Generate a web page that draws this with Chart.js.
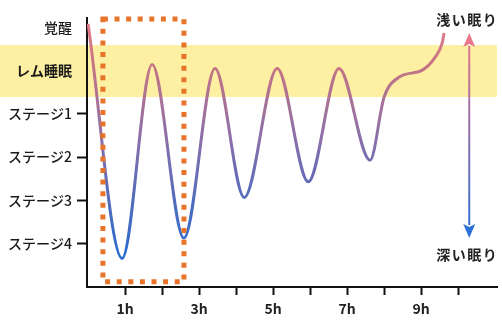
<!DOCTYPE html>
<html><head><meta charset="utf-8">
<script src="https://cdn.jsdelivr.net/npm/chart.js@4/dist/chart.umd.min.js"></script>
<style>html,body{margin:0;padding:0;background:#fff;}canvas{display:block;}</style>
</head><body>
<canvas id="c" width="502" height="322"></canvas>
<script>
// ---- data ----
const stageLabels = ['覚醒', 'レム睡眠', 'ステージ1', 'ステージ2', 'ステージ3', 'ステージ4'];
const stageValues = [0, 1, 2, 3, 4, 5];
const hourTicks = [1, 2, 3, 4, 5, 6, 7, 8, 9, 10];
const hourLabels = ['1h', '', '3h', '', '5h', '', '7h', '', '9h', ''];
const hours = [0, 0.92, 1.73, 2.59, 3.43, 4.22, 5.11, 5.95, 6.78, 7.62, 8.0, 8.41, 9.03, 9.38, 9.57, 9.62];
const depth = [-0.08, 5.34, 0.86, 4.87, 0.95, 3.93, 0.95, 3.57, 0.95, 3.07, 1.61, 1.15, 0.99, 0.69, 0.36, 0.13];
const remBand = [0.41, 1.61];
const firstCycleBox = { x: [0.40, 2.59], y: [-0.19, 5.88] };
const depthLabels = ['浅い眠り', '深い眠り'];
const depthArrow = { x: 10.3, y: [0.13, 4.87] };

const FONT = "'Noto Sans CJK JP', 'Noto Sans', sans-serif";

const decor = {
  id: 'decor',
  beforeDraw(chart) {
    const { ctx, chartArea, scales: { y } } = chart;
    const y1 = y.getPixelForValue(remBand[0]);
    const y2 = y.getPixelForValue(remBand[1]);
    ctx.save();
    ctx.fillStyle = '#fdf0a3';
    ctx.fillRect(0, y1, chartArea.right, y2 - y1);
    ctx.restore();
  },
  afterDatasetsDraw(chart) {
    const { ctx, scales: { x, y } } = chart;
    // first cycle dotted box
    const bx1 = x.getPixelForValue(firstCycleBox.x[0]);
    const bx2 = x.getPixelForValue(firstCycleBox.x[1]);
    const by1 = y.getPixelForValue(firstCycleBox.y[0]);
    const by2 = y.getPixelForValue(firstCycleBox.y[1]);
    ctx.save();
    ctx.strokeStyle = '#e8742a';
    ctx.lineWidth = 5;
    ctx.setLineDash([5, 6.6]);
    ctx.strokeRect(bx1, by1, bx2 - bx1, by2 - by1);
    ctx.restore();

    // depth arrow
    const ax = x.getPixelForValue(depthArrow.x);
    const top = y.getPixelForValue(depthArrow.y[0]);
    const bot = y.getPixelForValue(depthArrow.y[1]);
    const head = 14, hw = 6;
    ctx.save();
    const g = ctx.createLinearGradient(0, top, 0, bot);
    g.addColorStop(0, '#e8788a');
    g.addColorStop(0.5, '#8c70ab');
    g.addColorStop(1, '#2a70d6');
    ctx.strokeStyle = g;
    ctx.lineWidth = 2;
    ctx.beginPath();
    ctx.moveTo(ax, top + head - 1);
    ctx.lineTo(ax, bot - head + 1);
    ctx.stroke();
    ctx.fillStyle = '#e8788a';
    ctx.beginPath();
    ctx.moveTo(ax, top);
    ctx.lineTo(ax - hw, top + head);
    ctx.lineTo(ax, top + head - 3);
    ctx.lineTo(ax + hw, top + head);
    ctx.closePath();
    ctx.fill();
    ctx.fillStyle = '#2a70d6';
    ctx.beginPath();
    ctx.moveTo(ax, bot);
    ctx.lineTo(ax - hw, bot - head);
    ctx.lineTo(ax, bot - head + 3);
    ctx.lineTo(ax + hw, bot - head);
    ctx.closePath();
    ctx.fill();

    ctx.fillStyle = '#222';
    ctx.font = 'bold 14px ' + FONT;
    ctx.textAlign = 'center';
    ctx.textBaseline = 'middle';
    try { ctx.letterSpacing = '1.5px'; } catch (e) {}
    ctx.fillText(depthLabels[0], ax - 2, top - 13);
    ctx.fillText(depthLabels[1], ax - 2, bot + 17);
    ctx.restore();
  }
};

new Chart(document.getElementById('c'), {
  type: 'line',
  data: {
    datasets: [{
      data: hours.map((h, i) => ({ x: h, y: depth[i] })),
      borderWidth: 3,
      pointRadius: 0,
      fill: false,
      cubicInterpolationMode: 'monotone',
      borderColor: (ctx) => {
        const chart = ctx.chart;
        const { chartArea, scales } = chart;
        if (!chartArea || !scales.y) return '#8a6fae';
        const y = scales.y;
        const g = chart.ctx.createLinearGradient(0, y.getPixelForValue(0), 0, y.getPixelForValue(5.4));
        g.addColorStop(0, '#e07a8a');
        g.addColorStop(0.17, '#c47484');
        g.addColorStop(0.48, '#8a6faa');
        g.addColorStop(0.72, '#556cba');
        g.addColorStop(1, '#276bd0');
        return g;
      }
    }]
  },
  options: {
    responsive: false,
    animation: false,
    devicePixelRatio: 1,
    layout: { padding: { top: 18, right: 5, left: 0, bottom: 0 } },
    plugins: { legend: { display: false }, tooltip: { enabled: false } },
    scales: {
      x: {
        type: 'linear',
        min: -0.03,
        max: 11.05,
        afterFit: (s) => { s.height = 35; },
        afterBuildTicks: (s) => { s.ticks = hourTicks.map(v => ({ value: v })); },
        border: { display: true, color: '#111', width: 2 },
        grid: { drawOnChartArea: false, drawTicks: true, tickLength: 8, tickColor: '#111', tickWidth: 2 },
        ticks: {
          autoSkip: false,
          maxRotation: 0,
          padding: 5,
          color: '#222',
          font: { family: FONT, size: 14, weight: 'bold' },
          callback: (v) => { const i = hourTicks.indexOf(v); return i >= 0 ? hourLabels[i] : ''; }
        }
      },
      y: {
        type: 'linear',
        reverse: true,
        min: -0.215,
        max: 6.0,
        afterFit: (s) => { s.width = 87; },
        afterBuildTicks: (s) => { s.ticks = stageValues.map(v => ({ value: v })); },
        border: { display: true, color: '#111', width: 2 },
        grid: {
          drawOnChartArea: false, drawTicks: true, tickLength: 10, tickWidth: 2,
          tickColor: (c) => (c.tick && c.tick.value >= 2 ? '#111' : 'rgba(0,0,0,0)')
        },
        ticks: {
          autoSkip: false,
          padding: 5,
          color: '#1a1a1a',
          font: (c) => ({ family: FONT, size: 14, weight: (c.tick && c.tick.value === 1) ? 'bold' : '500' }),
          callback: (v) => { const i = stageValues.indexOf(v); return i >= 0 ? stageLabels[i] : ''; }
        }
      }
    }
  },
  plugins: [decor]
});
</script>
</body></html>
